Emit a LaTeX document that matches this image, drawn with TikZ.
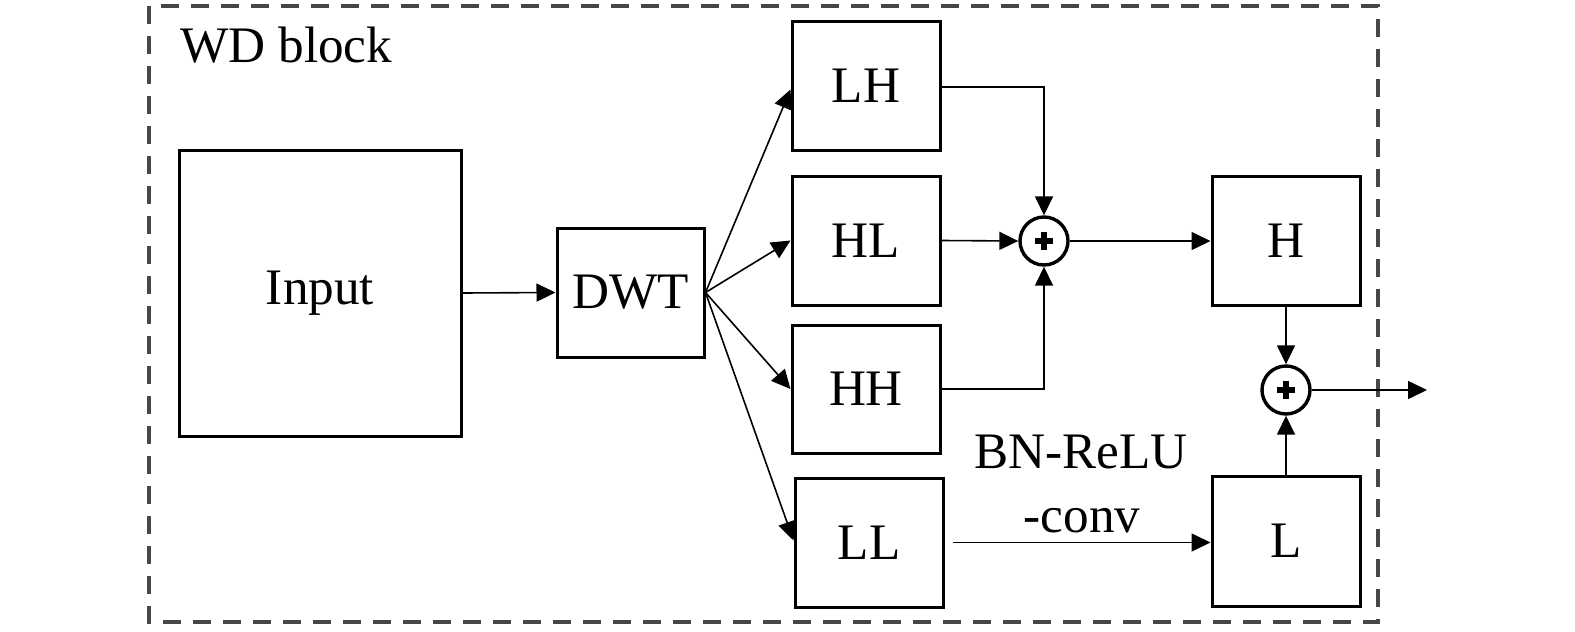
\documentclass[tikz,border=0pt]{standalone}
\usepackage{fontspec}
\setmainfont{Liberation Serif}
\usetikzlibrary{arrows.meta,calc}
\begin{document}
\begin{tikzpicture}[x=0.5pt,y=-0.5pt,
  txt/.style={font=\fontsize{25.6}{30}\selectfont, inner sep=0pt},
  box/.style={draw, line width=1.5pt, inner sep=0pt, font=\fontsize{25.6}{30}\selectfont},
  conn/.style={line width=0.8pt, -{Triangle[length=9.5pt,width=9pt]}},
  sumnode/.style={draw, circle, line width=1.7pt, minimum size=24pt, inner sep=0pt},
  plusbar/.style={line width=2.6pt}]
\useasboundingbox (0,0) rectangle (1575,632);
% dashed block border
\draw[line width=1.8pt, color=black!72, dash pattern=on 9pt off 6pt] (149,6) rectangle (1378,622);
\node[txt, anchor=base west] (title) at (180,62) {WD block};
% boxes
\node[box, minimum width=141pt, minimum height=143pt] (input) at (320,293) {Input};
\node[box, minimum width=73.5pt, minimum height=64.5pt] (dwt) at (630.5,292.5) {DWT};
\node[box, minimum width=74pt, minimum height=64.5pt] (lh) at (866,85.5) {LH};
\node[box, minimum width=74pt, minimum height=64.5pt] (hl) at (866,240.5) {HL};
\node[box, minimum width=74pt, minimum height=64pt] (hh) at (866,389) {HH};
\node[box, minimum width=74pt, minimum height=64.5pt] (ll) at (869,542.5) {LL};
\node[box, minimum width=74pt, minimum height=64.5pt] (h) at (1286,240.5) {H};
\node[box, minimum width=74pt, minimum height=65pt] (l) at (1286,541) {L};
% sum nodes
\node[sumnode] (p1) at (1044,241) {};
\node[sumnode] (p2) at (1286,390) {};
\foreach \p in {p1,p2}{
  \draw[plusbar] ([xshift=-4.6pt]\p.center) -- ([xshift=4.6pt]\p.center);
  \draw[plusbar] ([yshift=-4.6pt]\p.center) -- ([yshift=4.6pt]\p.center);
}
% label
\node[txt, anchor=base] (bn1) at (1081,468) {BN-ReLU};
\node[txt, anchor=base] (bn2) at (1082,532) {-conv};
% connectors
\draw[conn] (input.east) -- (dwt.west);
\draw[conn] (dwt.east) -- ($(lh.west)+(0,4)$);
\draw[conn] (dwt.east) -- (hl.west);
\draw[conn] (dwt.east) -- (hh.west);
\draw[conn] (dwt.east) -- ($(ll.west)+(0,-2)$);
\draw[conn] ($(lh.east)+(0,1.5)$) -| (p1.north);
\draw[conn] (hl.east) -- (p1.west);
\draw[conn] (hh.east) -| (p1.south);
\draw[conn] (p1.east) -- (p1.east -| h.west);
\draw[conn] (h.south -| p2.north) -- (p2.north);
\draw[conn] (l.north -| p2.south) -- (p2.south);
\coordinate (out) at (1427,390);
\draw[conn] (p2.east) -- (out);
\draw[conn, shorten <=4pt] (ll.east) -- (ll.east -| l.west);
\end{tikzpicture}
\end{document}
